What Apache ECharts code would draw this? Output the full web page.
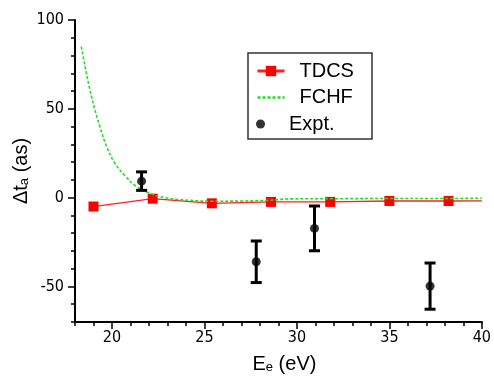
<!DOCTYPE html>
<html>
<head>
<meta charset="utf-8">
<script src="https://cdn.jsdelivr.net/npm/echarts@6/dist/echarts.min.js"></script>
<style>
  html, body { margin: 0; padding: 0; background: #fff; }
  #chart { width: 494px; height: 379px; }
</style>
</head>
<body>
<div id="chart"></div>
<script>
// TDCS (red squares); the last point only carries the line out to 40 eV
const tdcsE = [19.0, 22.2, 25.4, 28.6, 31.8, 35.0, 38.2, 40.0]
const tdcsDt = [-5.0, -0.6, -3.2, -2.4, -2.4, -1.9, -1.9, -1.8]

// FCHF (green dashed curve)
const fchfE = [18.34, 18.6, 18.8, 19.06, 19.33, 19.7, 20.15, 20.73, 21.3, 22.1, 23.1, 24.2, 25.3, 27.0, 28.5, 29.6, 32.0, 35.0, 38.0, 40.0]
const fchfDt = [85, 71, 61, 50, 40.5, 29, 19.5, 12, 6.5, 2.2, -0.4, -1.5, -2.0, -1.9, -1.5, -0.7, -0.6, -0.5, -0.5, -0.3]

// experiment with error bars
const exptE = [21.6, 27.8, 30.95, 37.2]
const exptDt = [9.3, -36.1, -17.3, -49.8]
const exptErr = [5.2, 11.7, 12.6, 13.0]

const xMajor = [20, 25, 30, 35, 40]
const yMajor = [-50, 0, 50, 100]

const tickFont = 'DejaVu Sans Condensed'
const textFont = 'Liberation Sans'

const chart = echarts.init(document.getElementById('chart'))

const nameRich = {
  n: { fontFamily: textFont, fontSize: 20, color: '#000' },
  s: { fontFamily: textFont, fontSize: 13, color: '#000', verticalAlign: 'bottom', lineHeight: 14 }
}

const baseAxis = {
  type: 'value',
  axisLine: { show: true, onZero: false, lineStyle: { color: '#000', width: 2 } },
  splitLine: { show: false }
}

const option = {
  animation: false,
  grid: { left: 75, right: 12, top: 20, bottom: 53 },
  xAxis: [
    {
      ...baseAxis,
      min: 18, max: 40, interval: 1,
      axisTick: { length: 4, lineStyle: { color: '#000', width: 1.5 } },
      axisLabel: { show: false },
      name: '{n|E}{s|e}{n| (eV)}',
      nameLocation: 'middle',
      nameGap: 32,
      nameTextStyle: { rich: nameRich, padding: [0, 0, 0, 12] }
    },
    {
      ...baseAxis,
      position: 'bottom',
      min: 18, max: 40,
      axisLine: { show: false, onZero: false },
      axisTick: { customValues: xMajor, length: 7, lineStyle: { color: '#000', width: 1.5 } },
      axisLabel: { customValues: xMajor, fontFamily: tickFont, fontSize: 16, color: '#000', margin: 8 }
    }
  ],
  yAxis: [
    {
      ...baseAxis,
      min: -70, max: 100, interval: 10,
      axisTick: { length: 4, lineStyle: { color: '#000', width: 1.5 } },
      axisLabel: { show: false },
      name: '{n|Δt}{s|a}{n| (as)}',
      nameLocation: 'middle',
      nameRotate: 90,
      nameGap: 44,
      nameTextStyle: { rich: nameRich }
    },
    {
      ...baseAxis,
      position: 'left',
      min: -70, max: 100,
      axisLine: { show: false, onZero: false },
      axisTick: { customValues: yMajor, length: 7, lineStyle: { color: '#000', width: 1.5 } },
      axisLabel: { customValues: yMajor, fontFamily: tickFont, fontSize: 16, color: '#000', margin: 11 }
    }
  ],
  legend: [
    {
      data: [
        { name: 'TDCS', lineStyle: { width: 3 } },
        { name: 'FCHF', lineStyle: { width: 2.5 }, itemStyle: { opacity: 0 } }
      ],
      orient: 'vertical',
      left: 256, top: 61,
      padding: 0,
      itemWidth: 27, itemHeight: 13, itemGap: 6.5,
      textStyle: { fontFamily: textFont, fontSize: 20, color: '#000', lineHeight: 20, padding: [0, 0, 0, 10] },
      selectedMode: false
    },
    {
      data: ['Expt.'],
      orient: 'vertical',
      left: 256, top: 114,
      padding: 0,
      itemWidth: 27, itemHeight: 9,
      textStyle: { fontFamily: textFont, fontSize: 20, color: '#000', lineHeight: 20, padding: [0, 0, 0, 10] },
      selectedMode: false
    }
  ],
  graphic: [
    {
      type: 'rect',
      shape: { x: 248, y: 53, width: 124, height: 86 },
      style: { fill: 'none', stroke: '#333', lineWidth: 1.5 }
    }
  ],
  series: [
    {
      name: 'FCHF',
      type: 'line',
      data: fchfE.map((e, i) => [e, fchfDt[i]]),
      symbol: 'none',
      smooth: 0.4,
      lineStyle: { color: '#22dd22', width: 1.6, type: [3, 2] },
      itemStyle: { color: '#22dd22' },
      z: 3
    },
    {
      name: 'TDCS',
      type: 'line',
      data: tdcsE.map((e, i) => (i === tdcsE.length - 1
        ? { value: [e, tdcsDt[i]], symbol: 'none' }
        : [e, tdcsDt[i]])),
      symbol: 'rect',
      symbolSize: 10,
      lineStyle: { color: '#ff2020', width: 1.3 },
      itemStyle: { color: '#ff0000' },
      z: 2
    },
    {
      name: 'Expt. err',
      type: 'custom',
      data: exptE.map((e, i) => [e, exptDt[i], exptErr[i]]),
      encode: { x: 0, y: 1 },
      renderItem: (params, api) => {
        const x = api.value(0)
        const y = api.value(1)
        const err = api.value(2)
        const top = api.coord([x, y + err])
        const bot = api.coord([x, y - err])
        const hw = 5.5
        const style = { stroke: '#000', lineWidth: 3 }
        return {
          type: 'group',
          children: [
            { type: 'line', shape: { x1: top[0], y1: top[1], x2: bot[0], y2: bot[1] }, style },
            { type: 'line', shape: { x1: top[0] - hw, y1: top[1], x2: top[0] + hw, y2: top[1] }, style },
            { type: 'line', shape: { x1: bot[0] - hw, y1: bot[1], x2: bot[0] + hw, y2: bot[1] }, style }
          ]
        }
      },
      z: 4
    },
    {
      name: 'Expt.',
      type: 'scatter',
      data: exptE.map((e, i) => [e, exptDt[i]]),
      symbol: 'circle',
      symbolSize: 9,
      itemStyle: { color: '#000' },
      z: 5
    }
  ]
}

chart.setOption(option)
</script>
</body>
</html>
